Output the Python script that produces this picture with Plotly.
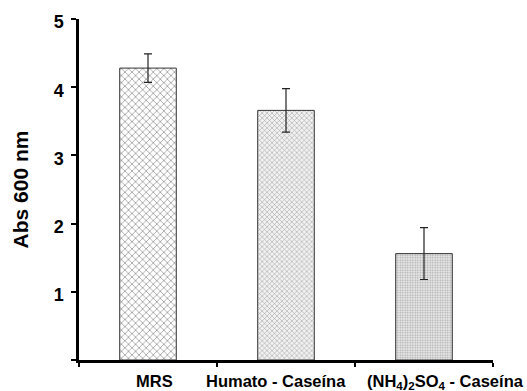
import plotly.graph_objects as go

# Growth at 600 nm for each culture medium
categories = ["MRS", "Humato - Caseína", "(NH4)2SO4 - Caseína"]
tick_labels = ["MRS", "Humato - Caseína", "(NH<sub>4</sub>)<sub>2</sub>SO<sub>4</sub> - Caseína"]
abs600 = [4.28, 3.66, 1.56]
abs600_err = [0.21, 0.32, 0.38]

y_ticks = [0, 1, 2, 3, 4, 5]
y_tick_text = ["", "1", "2", "3", "4", "5"]

FONT = "Liberation Sans, Arial, sans-serif"

fig = go.Figure()
fig.add_trace(go.Bar(
    x=categories,
    y=abs600,
    width=0.41,
    error_y=dict(type="data", array=abs600_err, visible=True,
                 color="#222222", thickness=1.2, width=4),
    marker=dict(
        color="white",
        line=dict(color="#333333", width=1),
        pattern=dict(
            shape=["x", "x", "."],
            size=[5, 3.5, 2.5],
            solidity=[0.25, 0.3, 0.35],
            fgcolor=["#8a8a8a", "#a0a0a0", "#a8a8a8"],
            bgcolor=["white", "#f2f2f2", "#e8e8e8"],
            fillmode="replace",
        ),
    ),
    showlegend=False,
))

# Category labels, drawn as annotations so each can be nudged
label_shift = [6, -10, 21]
for cat, txt, dx in zip(categories, tick_labels, label_shift):
    fig.add_annotation(
        x=cat, y=0, xref="x", yref="y", yanchor="top",
        text=f"<b>{txt}</b>", showarrow=False, xshift=dx, yshift=-10,
        font=dict(family=FONT, size=16.5, color="black"),
    )

fig.update_layout(
    width=527, height=391,
    margin=dict(l=79, r=34, t=17, b=31),
    plot_bgcolor="white", paper_bgcolor="white",
    font=dict(family=FONT, color="black"),
)
fig.update_xaxes(
    type="category", range=[-0.5, 2.5],
    showticklabels=False,
    showline=True, linecolor="black", linewidth=2.5,
    ticks="outside", tickson="boundaries", ticklen=4, tickwidth=1.5, tickcolor="black",
    showgrid=False, zeroline=False,
)
fig.update_yaxes(
    range=[0, 5],
    tickvals=y_ticks, ticktext=y_tick_text,
    tickfont=dict(family=FONT, size=18, color="black", weight="bold"),
    showline=True, linecolor="black", linewidth=2.5,
    ticks="outside", ticklen=5, tickwidth=1.5, tickcolor="black",
    ticklabelshift=3, ticklabelstandoff=4,
    showgrid=False, zeroline=False,
    title=dict(text="<b>Abs 600 nm</b>", font=dict(family=FONT, size=21, color="black"),
               standoff=20),
)

fig.write_html("out.html")
